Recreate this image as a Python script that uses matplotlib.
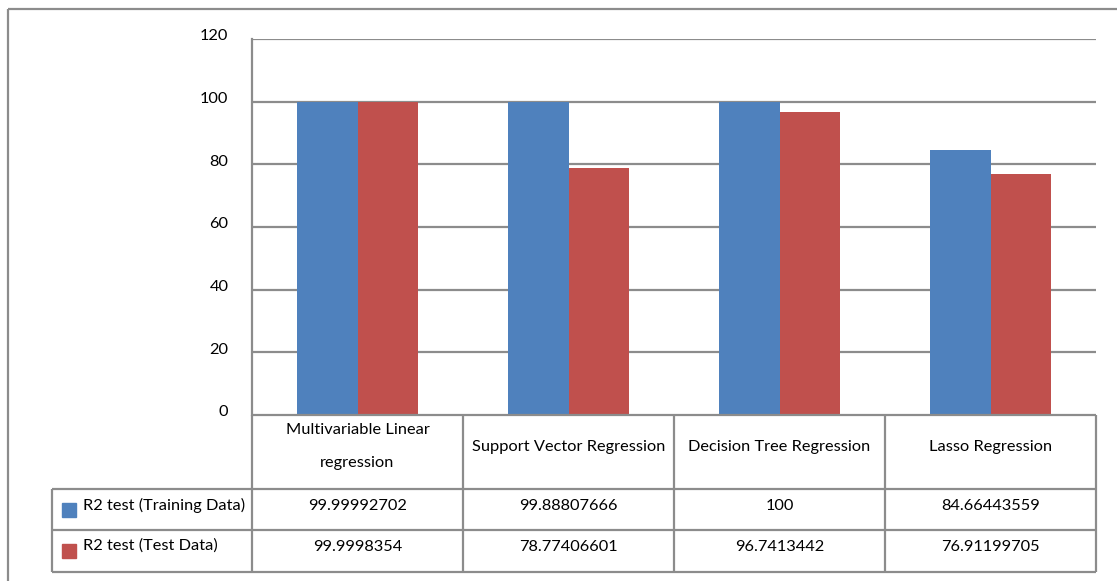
import matplotlib
matplotlib.use("Agg")
import matplotlib.pyplot as plt
from matplotlib.patches import Rectangle
from matplotlib.transforms import ScaledTranslation

plt.rcParams['font.family'] = ['Lato', 'DejaVu Sans']

categories = ["Multivariable Linear\nregression", "Support Vector Regression",
              "Decision Tree Regression", "Lasso Regression"]
series_names = ["R2 test (Training Data)", "R2 test (Test Data)"]
train_vals = [99.99992702, 99.88807666, 100, 84.66443559]
test_vals = [99.9998354, 78.77406601, 96.7413442, 76.91199705]
train_labels = ["99.99992702", "99.88807666", "100", "84.66443559"]
test_labels = ["99.9998354", "78.77406601", "96.7413442", "76.91199705"]
yticks = [0, 20, 40, 60, 80, 100, 120]

BLUE = "#4F81BD"
RED = "#C0504D"
GRID = "#8C8C8C"

W, H = 1117, 581
fig = plt.figure(figsize=(W / 100, H / 100), dpi=100)

# plot area in pixels
px_l, px_r, px_t, px_b = 252, 1096, 39, 415

def fx(x):
    return x / W

def fy(y):
    return 1 - y / H

fs = 11.8

ax = fig.add_axes([fx(px_l), fy(px_b), fx(px_r) - fx(px_l), fy(px_t) - fy(px_b)])
n = len(categories)
bw = 0.285
xs = list(range(n))
ax.bar([x - bw / 2 for x in xs], train_vals, width=bw, color=BLUE, zorder=3)
ax.bar([x + bw / 2 for x in xs], test_vals, width=bw, color=RED, zorder=3)
ax.set_xlim(-0.5, n - 0.5)
ax.set_ylim(0, 120)
ax.set_yticks(yticks)
ax.set_yticklabels([str(t) for t in yticks], fontsize=fs)
ax.tick_params(axis='y', length=0, pad=17)
for lbl in ax.get_yticklabels():
    lbl.set_transform(lbl.get_transform() + ScaledTranslation(0, 4 / 100, fig.dpi_scale_trans))
ax.set_xticks([])
for t in yticks[1:]:
    ax.axhline(t, color=GRID, lw=1.6, zorder=1)
for s in ["top", "right", "bottom"]:
    ax.spines[s].set_visible(False)
ax.spines["left"].set_color(GRID)
ax.spines["left"].set_linewidth(1.6)

# overlay in pixel coordinates for frame and data table
ov = fig.add_axes([0, 0, 1, 1])
ov.set_xlim(0, W)
ov.set_ylim(H, 0)
ov.axis("off")
ov.patch.set_alpha(0)

lk = dict(color=GRID, lw=1.6, solid_capstyle="butt")
# outer chart frame
ov.plot([8, W], [9, 9], **lk)
ov.plot([8, 8], [9, H], **lk)

# data table
col_x = [px_l + i * (px_r - px_l) / n for i in range(n + 1)]
row_y = [px_b, 489, 530, 572]
ov.plot([px_l, px_r], [row_y[0], row_y[0]], **lk)
for y in row_y[1:]:
    ov.plot([52, px_r], [y, y], **lk)
for x in col_x:
    ov.plot([x, x], [row_y[0], row_y[3]], **lk)
ov.plot([52, 52], [row_y[1], row_y[3]], **lk)

header_mid = 447
line_gap = 33
for i, cat in enumerate(categories):
    cx = (col_x[i] + col_x[i + 1]) / 2
    lines = cat.split("\n")
    first = header_mid - line_gap * (len(lines) - 1) / 2
    for k, line in enumerate(lines):
        ov.text(cx, first + k * line_gap, line, ha="center", va="center", fontsize=fs)
    ov.text(cx, 506, train_labels[i], ha="center", va="center", fontsize=fs)
    ov.text(cx, 547, test_labels[i], ha="center", va="center", fontsize=fs)

for j, (name, col) in enumerate(zip(series_names, [BLUE, RED])):
    yc = [506, 547][j]
    ov.add_patch(Rectangle((62, yc - 3), 14, 14, color=col))
    ov.text(83, yc - 1, name, ha="left", va="center", fontsize=fs)

fig.savefig("out.png", dpi=100)
